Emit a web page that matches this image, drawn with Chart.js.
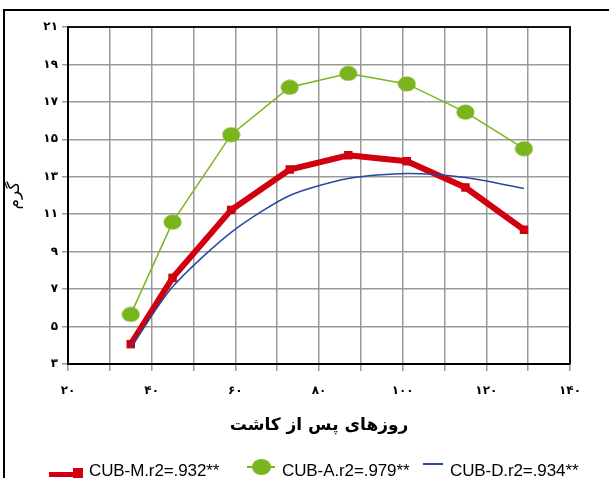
<!DOCTYPE html>
<html>
<head>
<meta charset="utf-8">
<script src="https://cdn.jsdelivr.net/npm/chart.js@4"></script>
<style>
  html, body { margin: 0; padding: 0; background: #fff; }
  #wrap { position: relative; width: 609px; height: 478px; overflow: hidden; background: #fff; }
  #c { position: absolute; left: 0; top: 0; }
  .frameTop { position: absolute; left: 3px; top: 9px; width: 606px; height: 2px; background: #000; }
  .frameLeft { position: absolute; left: 3px; top: 9px; width: 2px; height: 469px; background: #000; }
  .lg { position: absolute; top: 462px; height: 17px; line-height: 17px; font-family: "Liberation Sans", Arial, sans-serif; font-size: 17px; color: #000; white-space: nowrap; letter-spacing: -0.1px; }
  .mk { position: absolute; }
</style>
</head>
<body>
<div id="wrap">
  <canvas id="c" width="609" height="478"></canvas>
  <div class="frameTop"></div>
  <div class="frameLeft"></div>
  <div id="legend"></div>
</div>
<script>
// ---- data ----
const days = [35, 45, 59, 73, 87, 101, 115, 129];
const cubM = [4.06, 7.60, 11.23, 13.39, 14.15, 13.83, 12.43, 10.17];
const cubA = [5.65, 10.58, 15.25, 17.78, 18.52, 17.96, 16.45, 14.50];
const cubD = [3.88, 7.12, 10.03, 12.00, 12.91, 13.18, 12.96, 12.38];
const seriesLabels = ['CUB-M.r2=.932**', 'CUB-A.r2=.979**', 'CUB-D.r2=.934**'];
const xTickValues = [20, 40, 60, 80, 100, 120, 140];
const xTickLabels = ['۲۰', '۴۰', '۶۰', '۸۰', '۱۰۰', '۱۲۰', '۱۴۰'];
const yTickValues = [3, 5, 7, 9, 11, 13, 15, 17, 19, 21];
const yTickLabels = ['۳', '۵', '۷', '۹', '۱۱', '۱۳', '۱۵', '۱۷', '۱۹', '۲۱'];
const xTitle = 'روزهای پس از کاشت';
const yTitle = 'گرم';

const RED = '#d0000f', GREEN = '#7ab51d', BLUE = '#2a47a0';

function pts(arr) { return days.map((d, i) => ({ x: d, y: arr[i] })); }

// ellipse marker image for the green series
function ellipseImg(w, h, color) {
  const cv = document.createElement('canvas');
  cv.width = w; cv.height = h;
  const g = cv.getContext('2d');
  g.fillStyle = color;
  g.beginPath();
  g.ellipse(w / 2, h / 2, w / 2 - 0.5, h / 2 - 0.5, 0, 0, Math.PI * 2);
  g.fill();
  return cv;
}

const framePlugin = {
  id: 'frame',
  afterDatasetsDraw(chart) {
    const a = chart.chartArea, ctx = chart.ctx;
    ctx.save();
    ctx.strokeStyle = '#111';
    ctx.lineWidth = 2;
    ctx.beginPath();
    ctx.moveTo(a.left, a.top); ctx.lineTo(a.right, a.top); ctx.lineTo(a.right, a.bottom);
    ctx.stroke();
    ctx.restore();
  }
};

new Chart(document.getElementById('c'), {
  type: 'line',
  data: {
    datasets: [
      { label: seriesLabels[0], data: pts(cubM), borderColor: RED, backgroundColor: RED,
        borderWidth: 6, pointStyle: 'rect', pointRadius: 6, pointBorderWidth: 0, tension: 0, order: 1 },
      { label: seriesLabels[1], data: pts(cubA), borderColor: GREEN, backgroundColor: GREEN,
        borderWidth: 1.5, pointStyle: ellipseImg(19, 16, GREEN), pointRadius: 8, tension: 0, order: 2 },
      { label: seriesLabels[2], data: pts(cubD), borderColor: BLUE, backgroundColor: BLUE,
        borderWidth: 1.5, pointRadius: 0, tension: 0.25, order: 0 }
    ]
  },
  options: {
    responsive: false,
    animation: false,
    devicePixelRatio: 1,
    layout: { padding: { left: 0, right: 39, top: 27, bottom: 38 } },
    plugins: { legend: { display: false }, tooltip: { enabled: false } },
    scales: {
      x: {
        type: 'linear', min: 20, max: 140,
        afterFit(s) { s.height = 76; },
        ticks: {
          stepSize: 10, autoSkip: false, maxRotation: 0, padding: 13,
          color: '#000', font: { family: 'DejaVu Sans', size: 12, weight: 'bold' },
          callback(v) { const i = xTickValues.indexOf(v); return i >= 0 ? xTickLabels[i] : ''; }
        },
        grid: { color: '#9a9a9a', lineWidth: 1.5, tickLength: 7, drawTicks: true },
        border: { color: '#000', width: 2 },
        title: { display: true, text: xTitle, color: '#000', padding: { top: 4, bottom: 4 },
          font: { family: 'DejaVu Sans', size: 17, weight: 'bold' } }
      },
      y: {
        min: 3, max: 21,
        afterFit(s) { s.width = 68; },
        ticks: {
          stepSize: 2, autoSkip: false, padding: 4,
          color: '#000', font: { family: 'DejaVu Sans', size: 12, weight: 'bold' },
          callback(v) { const i = yTickValues.indexOf(v); return i >= 0 ? yTickLabels[i] : ''; }
        },
        grid: { color: '#9a9a9a', lineWidth: 1.5, tickLength: 6, drawTicks: true },
        border: { color: '#000', width: 2 },
        title: { display: true, text: yTitle, color: '#000', padding: { top: 4, bottom: 4 },
          font: { family: 'DejaVu Sans', size: 17 } }
      }
    }
  },
  plugins: [framePlugin]
});

// ---- legend (HTML) ----
const lg = document.getElementById('legend');
const legendItems = [
  { text: seriesLabels[0], left: 89,
    marks: [ { l: 49, t: 472, w: 27, h: 5, bg: RED }, { l: 73, t: 468, w: 10, h: 10, bg: RED } ] },
  { text: seriesLabels[1], left: 282,
    marks: [ { l: 247, t: 466, w: 28, h: 2, bg: GREEN }, { l: 252, t: 459, w: 19, h: 16, bg: GREEN, r: '50%' } ] },
  { text: seriesLabels[2], left: 450,
    marks: [ { l: 423, t: 463, w: 20, h: 1.5, bg: BLUE } ] }
];
legendItems.forEach(it => {
  it.marks.forEach(m => {
    const d = document.createElement('div');
    d.className = 'mk';
    d.style.cssText = `left:${m.l}px;top:${m.t}px;width:${m.w}px;height:${m.h}px;background:${m.bg};` + (m.r ? `border-radius:${m.r};` : '');
    lg.appendChild(d);
  });
  const s = document.createElement('div');
  s.className = 'lg';
  s.style.left = it.left + 'px';
  s.textContent = it.text;
  lg.appendChild(s);
});
</script>
</body>
</html>
